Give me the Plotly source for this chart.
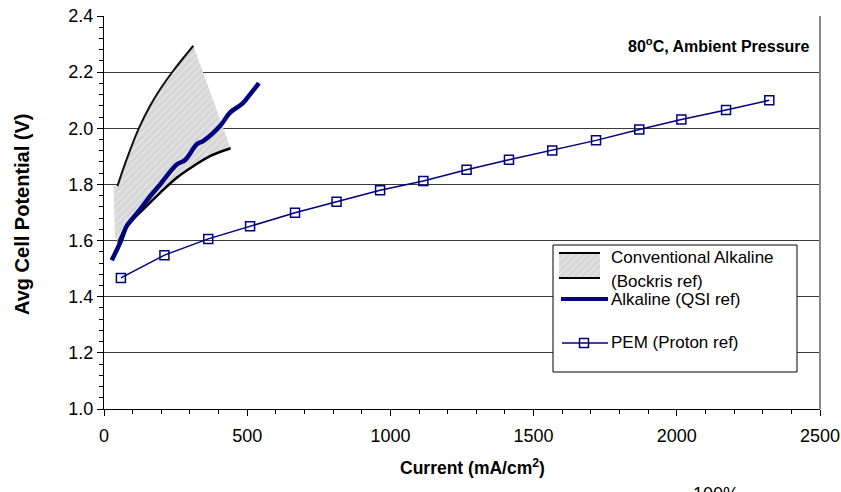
import plotly.graph_objects as go

# ---- data ----
conv_upper_x = [47, 79, 120, 161, 196, 242, 312]
conv_upper_y = [1.794, 1.889, 1.996, 2.080, 2.139, 2.205, 2.294]
conv_lower_x = [50, 79, 137, 196, 254, 312, 370, 442]
conv_lower_y = [1.592, 1.651, 1.711, 1.770, 1.824, 1.865, 1.901, 1.929]
shade_left_x = [33, 38]
shade_left_y = [1.794, 1.615]

qsi_x = [27, 56, 79, 97, 126, 161, 196, 254, 283, 324, 347, 405, 440, 481, 510, 541]
qsi_y = [1.530, 1.592, 1.651, 1.675, 1.711, 1.758, 1.800, 1.871, 1.887, 1.943, 1.955,
         2.008, 2.056, 2.086, 2.121, 2.161]

pem_x = [59, 211, 364, 510, 667, 812, 964, 1115, 1266, 1414, 1565, 1718, 1869, 2016, 2172, 2323]
pem_y = [1.467, 1.548, 1.606, 1.651, 1.699, 1.738, 1.779, 1.812, 1.852, 1.888, 1.921,
         1.957, 1.996, 2.031, 2.065, 2.100]

x_ticks = [0, 500, 1000, 1500, 2000, 2500]
y_ticks = [1.0, 1.2, 1.4, 1.6, 1.8, 2.0, 2.2, 2.4]

NAVY = "#000080"
FONT = "Liberation Sans, Arial, sans-serif"

W, H = 841, 492
L, R, T, B = 104, 21, 16, 83
PX0, PX1, PY0, PY1 = L, W - R, T, H - B


def px2paper_x(px):
    return (px - PX0) / (PX1 - PX0)


def px2paper_y(py):
    return (PY1 - py) / (PY1 - PY0)


fig = go.Figure()

# shaded band (conventional alkaline)
poly_x = [shade_left_x[0]] + conv_upper_x + conv_lower_x[::-1] + [shade_left_x[1]]
poly_y = [shade_left_y[0]] + conv_upper_y + conv_lower_y[::-1] + [shade_left_y[1]]
fig.add_trace(go.Scatter(x=poly_x, y=poly_y, mode="lines", fill="toself",
                         fillcolor="#d6d6d6", line=dict(width=0, color="rgba(0,0,0,0)"),
                         fillpattern=dict(shape="/", bgcolor="#d6d6d6", fgcolor="#f0f0f0",
                                          size=5, solidity=0.35),
                         hoverinfo="skip", showlegend=False))
fig.add_trace(go.Scatter(x=conv_upper_x, y=conv_upper_y, mode="lines",
                         line=dict(color="#111111", width=2, shape="spline"), showlegend=False))
fig.add_trace(go.Scatter(x=conv_lower_x, y=conv_lower_y, mode="lines",
                         line=dict(color="#000000", width=2.5, shape="spline"), showlegend=False))
fig.add_trace(go.Scatter(x=qsi_x, y=qsi_y, mode="lines",
                         line=dict(color=NAVY, width=4.5, shape="spline"), showlegend=False))
fig.add_trace(go.Scatter(x=pem_x, y=pem_y, mode="lines+markers",
                         line=dict(color=NAVY, width=1.5),
                         marker=dict(symbol="square-open", size=9, color=NAVY,
                                     line=dict(width=1.5, color=NAVY)),
                         showlegend=False))

# ---- custom legend on an overlay axis in pixel units ----
def ov(**kw):
    d = dict(xaxis="x2", yaxis="y2", hoverinfo="skip", showlegend=False)
    d.update(kw)
    return go.Scatter(**d)

bx0, bx1, by0, by1 = 553, 797, 245, 372
fig.add_trace(ov(x=[bx0, bx1, bx1, bx0, bx0], y=[by0, by0, by1, by1, by0], mode="lines",
                 fill="toself", fillcolor="white", line=dict(color="black", width=1)))
sx0, sx1, sy0, sy1 = 559, 600, 253, 278
fig.add_trace(ov(x=[sx0, sx1, sx1, sx0, sx0], y=[sy0, sy0, sy1, sy1, sy0], mode="lines",
                 fill="toself", fillcolor="#d6d6d6", line=dict(width=0, color="rgba(0,0,0,0)"),
                 fillpattern=dict(shape="/", bgcolor="#d6d6d6", fgcolor="#f0f0f0",
                                  size=5, solidity=0.35)))
fig.add_trace(ov(x=[sx0, sx1], y=[sy0, sy0], mode="lines", line=dict(color="black", width=2)))
fig.add_trace(ov(x=[sx0, sx1], y=[sy1, sy1], mode="lines", line=dict(color="black", width=2)))
fig.add_trace(ov(x=[561, 608], y=[299, 299], mode="lines", line=dict(color=NAVY, width=4)))
fig.add_trace(ov(x=[562, 608], y=[343, 343], mode="lines", line=dict(color=NAVY, width=1.5)))
fig.add_trace(ov(x=[584], y=[343], mode="markers",
                 marker=dict(symbol="square-open", size=9, color=NAVY, line=dict(width=1.5, color=NAVY))))

legend_texts = [("Conventional Alkaline", 257), ("(Bockris ref)", 281),
                ("Alkaline (QSI ref)", 299), ("PEM (Proton ref)", 342)]
for txt, yy in legend_texts:
    fig.add_annotation(x=px2paper_x(609), y=px2paper_y(yy), xref="paper", yref="paper",
                       text=txt, showarrow=False, xanchor="left", yanchor="middle",
                       font=dict(family=FONT, size=17, color="black"))

fig.add_annotation(x=px2paper_x(812), y=px2paper_y(45), xref="paper", yref="paper",
                   text="<b>80<sup>o</sup>C, Ambient Pressure</b>", showarrow=False,
                   xanchor="right", yanchor="middle",
                   font=dict(family=FONT, size=16, color="black"))

fig.add_annotation(x=px2paper_x(716), y=px2paper_y(494), xref="paper", yref="paper",
                   text="100%", showarrow=False, xanchor="center", yanchor="middle",
                   font=dict(family=FONT, size=18, color="black"))

fig.add_annotation(x=px2paper_x(472), y=px2paper_y(467), xref="paper",
                   yref="paper", text="<b>Current (mA/cm<sup>2</sup>)</b>", showarrow=False,
                   xanchor="center", yanchor="middle",
                   font=dict(family=FONT, size=17.5, color="black"))
fig.add_annotation(x=px2paper_x(22), y=px2paper_y(214), xref="paper",
                   yref="paper", text="<b>Avg Cell Potential (V)</b>", showarrow=False,
                   textangle=-90, xanchor="center", yanchor="middle",
                   font=dict(family=FONT, size=20, color="black"))

# right border
fig.add_shape(type="line", xref="paper", yref="paper", x0=1, x1=1, y0=0, y1=1,
              line=dict(color="#8c8c8c", width=2))

fig.update_layout(
    width=W, height=H,
    margin=dict(l=L, r=R, t=T, b=B, autoexpand=False),
    paper_bgcolor="white", plot_bgcolor="white",
    showlegend=False,
    font=dict(family=FONT, size=18, color="black"),
    xaxis=dict(range=[0, 2500], tickvals=x_ticks, ticks="outside", ticklen=6,
               tickwidth=1, tickcolor="black", showline=True, linecolor="black",
               linewidth=1, showgrid=False, zeroline=False, automargin=False,
               ticklabelstandoff=4,
               minor=dict(dtick=100, ticks="outside", ticklen=4, tickcolor="black"),
               tickfont=dict(family=FONT, size=18)),
    yaxis=dict(range=[1.0, 2.4], tickvals=y_ticks, tickformat=".1f", ticks="outside",
               ticklen=6, tickwidth=1, tickcolor="black", showline=True,
               linecolor="black", linewidth=1, showgrid=True, gridcolor="#3a3a3a",
               gridwidth=1, zeroline=False, automargin=False,
               minor=dict(dtick=0.04, ticks="outside", ticklen=4, tickcolor="black",
                          showgrid=False),
               tickfont=dict(family=FONT, size=18)),
    xaxis2=dict(overlaying="x", range=[PX0, PX1], visible=False, fixedrange=True,
                automargin=False),
    yaxis2=dict(overlaying="y", range=[PY1, PY0], visible=False, fixedrange=True,
                automargin=False),
)

fig.write_html("out.html")
